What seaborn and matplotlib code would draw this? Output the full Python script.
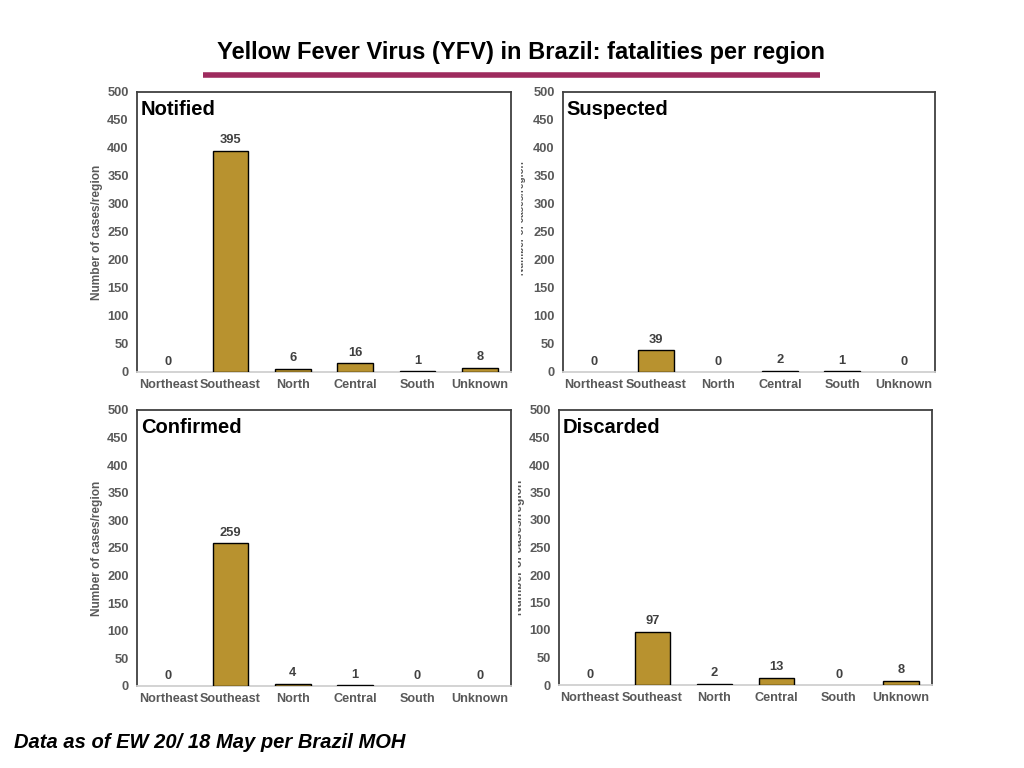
import matplotlib
matplotlib.use("Agg")
import matplotlib.pyplot as plt
from matplotlib.lines import Line2D
from matplotlib.transforms import Bbox, TransformedBbox
import seaborn as sns

# data
regions = ["Northeast", "Southeast", "North", "Central", "South", "Unknown"]
notified = [0, 395, 6, 16, 1, 8]
suspected = [0, 39, 0, 2, 1, 0]
confirmed = [0, 259, 4, 1, 0, 0]
discarded = [0, 97, 2, 13, 0, 8]

panel_names = ["Notified", "Suspected", "Confirmed", "Discarded"]
panel_values = [notified, suspected, confirmed, discarded]

sns.set_theme(style="white")
plt.rcParams["font.family"] = ["Liberation Sans", "DejaVu Sans"]

bar_color = "#B8922F"
gray = "#595959"

fig = plt.figure(figsize=(10.24, 7.68), dpi=100)

# [left, bottom, width, height] in figure fractions
positions = [
    [137 / 1024, 1 - 372 / 768, 374 / 1024, 280 / 768],
    [563 / 1024, 1 - 372 / 768, 372 / 1024, 280 / 768],
    [137 / 1024, 1 - 686 / 768, 374 / 1024, 276 / 768],
    [559 / 1024, 1 - 685 / 768, 373 / 1024, 275 / 768],
]
# x pixel where the hidden part of the right-hand y labels ends
label_clip = {1: 521, 3: 518}

for i, (name, vals) in enumerate(zip(panel_names, panel_values)):
    ax = fig.add_axes(positions[i])
    sns.barplot(x=regions, y=vals, color=bar_color, saturation=1,
                edgecolor="black", linewidth=1, width=0.57, ax=ax)
    for p, v in zip(ax.patches, vals):
        p.set_zorder(3)
        if v == 0:
            p.set_linewidth(0)
    ax.set_ylim(0, 500)
    ax.set_xlim(-0.5, 5.5)
    ax.set_yticks(range(0, 501, 50))
    for side in ["top", "right", "left"]:
        ax.spines[side].set_color("#404040")
        ax.spines[side].set_linewidth(1.3)
    ax.spines["bottom"].set_color("#d0d0d0")
    ax.spines["bottom"].set_linewidth(1.3)
    ax.tick_params(axis="both", length=0, colors=gray)
    ax.tick_params(axis="y", pad=6, labelsize=9.3)
    ax.tick_params(axis="x", pad=5, labelsize=9.1)
    for lab in ax.get_xticklabels() + ax.get_yticklabels():
        lab.set_fontweight("bold")
        lab.set_color(gray)
    for x, v in enumerate(vals):
        ax.text(x, v + 8, str(v), ha="center", va="bottom", fontsize=9.3,
                fontweight="bold", color="#404040", zorder=4)
    ax.text(0.01, 0.97, name, transform=ax.transAxes, ha="left", va="top",
            fontsize=14.5, fontweight="bold", color="black")
    ax.set_ylabel("Number of cases/region", fontsize=8.6, fontweight="bold",
                  color=gray, labelpad=3)
    if i == 1:
        ax.yaxis.label.set_fontsize(7.2)
        ax.yaxis.set_label_coords(-0.1, 0.55)
    if i in label_clip:
        # label is half hidden behind the left panel in the original slide
        lbl = ax.yaxis.label
        lbl.set_clip_on(True)
        lbl.set_clip_box(TransformedBbox(
            Bbox([[label_clip[i] / 1024, 0], [1, 1]]), fig.transFigure))

fig.text(521 / 1024, 1 - 52 / 768,
         "Yellow Fever Virus (YFV) in Brazil: fatalities per region",
         ha="center", va="center", fontsize=17, fontweight="bold",
         color="black")
fig.add_artist(Line2D([203 / 1024, 820 / 1024], [1 - 75 / 768] * 2,
                      color="#9E2B5E", linewidth=4, solid_capstyle="butt"))
fig.text(14 / 1024, 1 - 742 / 768, "Data as of EW 20/ 18 May per Brazil MOH",
         ha="left", va="center", fontsize=14.5, fontweight="bold",
         fontstyle="italic", color="black")

fig.savefig("out.png", dpi=100, facecolor="white")
